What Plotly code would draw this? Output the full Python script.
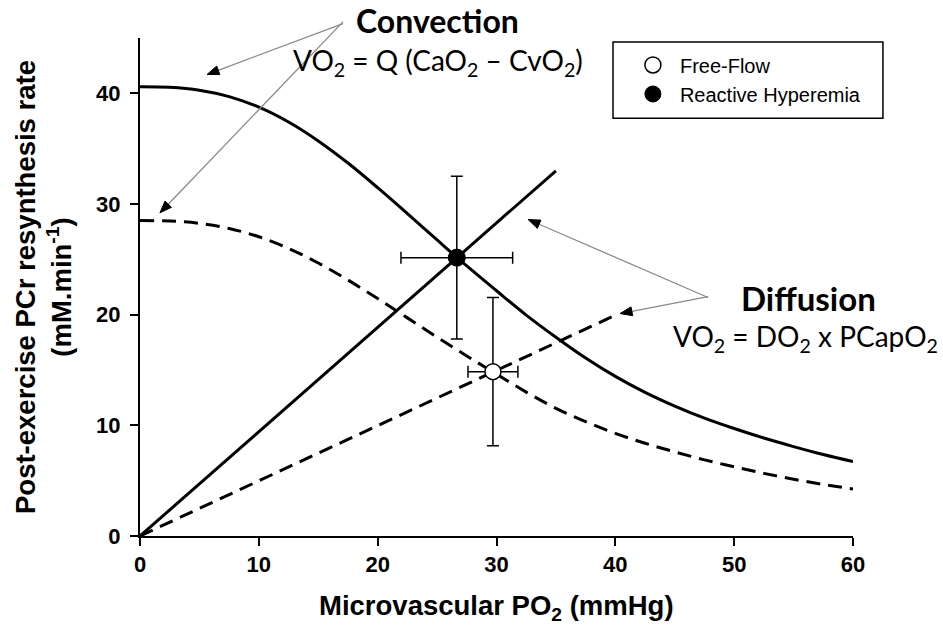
import plotly.graph_objects as go
import math

# ---------------- data ----------------
# Convection curve, reactive hyperemia (solid)
conv_rh_x = [0, 2.5, 5, 7.5, 10, 12.5, 15, 17.5, 20, 22.5, 25, 27.5, 30, 32.5, 35, 37.5, 40, 42.5, 45, 47.5, 50, 52.5, 55, 57.5, 60]
conv_rh_y = [40.6, 40.55, 40.28, 39.7, 38.75, 37.41, 35.7, 33.7, 31.47, 29.13, 26.75, 24.4, 22.16, 19.96, 17.96, 16.08, 14.42, 12.98, 11.74, 10.65, 9.71, 8.85, 8.08, 7.36, 6.72]

# Convection curve, free flow (dashed)
conv_ff_x = [0, 2.5, 5, 7.5, 10, 12.5, 15, 17.5, 20, 22.5, 25, 27.5, 30, 32.5, 35, 37.5, 40, 42.5, 45, 47.5, 50, 52.5, 55, 57.5, 60]
conv_ff_y = [28.5, 28.46, 28.25, 27.79, 27.04, 25.99, 24.67, 23.13, 21.46, 19.71, 17.96, 16.27, 14.63, 13.0, 11.54, 10.33, 9.28, 8.38, 7.6, 6.88, 6.26, 5.66, 5.13, 4.66, 4.25]

# Diffusion lines
diff_rh_x = [0, 35.0]
diff_rh_y = [0, 33.0]
diff_ff_x = [0, 40.0]
diff_ff_y = [0, 19.95]

# Measured points (mean, +/- error)
ff_x, ff_y, ff_ex, ff_ey = [29.7], [14.85], [2.1], [6.7]
rh_x, rh_y, rh_ex, rh_ey = [26.66], [25.15], [4.7], [7.35]

x_ticks = [0, 10, 20, 30, 40, 50, 60]
y_ticks = [0, 10, 20, 30, 40]
X_RANGE = [0, 60]
Y_RANGE = [0, 45]

FONT = "Liberation Sans, Arial, sans-serif"
CAL = "Lato, Open Sans, sans-serif"
DASH = "14px,8px"

W, H = 943, 625
ML, MR, MT, MB = 140, 90, 38, 89
PW, PH = W - ML - MR, H - MT - MB

fig = go.Figure()

fig.add_trace(go.Scatter(x=conv_rh_x, y=conv_rh_y, mode="lines",
                         line=dict(color="black", width=3, shape="spline", smoothing=1),
                         showlegend=False, hoverinfo="skip"))
fig.add_trace(go.Scatter(x=conv_ff_x, y=conv_ff_y, mode="lines",
                         line=dict(color="black", width=3, dash=DASH, shape="spline", smoothing=1),
                         showlegend=False, hoverinfo="skip"))
fig.add_trace(go.Scatter(x=diff_rh_x, y=diff_rh_y, mode="lines", line=dict(color="black", width=3),
                         showlegend=False, hoverinfo="skip"))
fig.add_trace(go.Scatter(x=diff_ff_x, y=diff_ff_y, mode="lines", line=dict(color="black", width=3, dash=DASH),
                         showlegend=False, hoverinfo="skip"))

fig.add_trace(go.Scatter(
    x=ff_x, y=ff_y, mode="markers", name="Free-Flow", legendgroup="a",
    marker=dict(symbol="circle", size=16, color="white", line=dict(color="black", width=1.5)),
    error_x=dict(type="data", array=ff_ex, color="black", thickness=1.5, width=6),
    error_y=dict(type="data", array=ff_ey, color="black", thickness=1.5, width=6),
))
fig.add_trace(go.Scatter(
    x=rh_x, y=rh_y, mode="markers", name="Reactive Hyperemia", legendgroup="b",
    marker=dict(symbol="circle", size=17, color="black", line=dict(color="black", width=1)),
    error_x=dict(type="data", array=rh_ex, color="black", thickness=1.5, width=6),
    error_y=dict(type="data", array=rh_ey, color="black", thickness=1.5, width=6),
))

# ---------------- arrows (grey shaft, black head) drawn as shapes ----------------
def to_px(x, y):
    px = ML + (x - X_RANGE[0]) / (X_RANGE[1] - X_RANGE[0]) * PW
    py = MT + PH - (y - Y_RANGE[0]) / (Y_RANGE[1] - Y_RANGE[0]) * PH
    return px, py

def paper(px, py):
    return (px - ML) / PW, (MT + PH - py) / PH

def arrow(x, y, ax, ay, head_len=12.0, head_half=4.5):
    tx, ty = to_px(x, y)               # tip in pixels
    L = math.hypot(ax, ay)
    ux, uy = ax / L, ay / L            # unit vector tip -> tail
    bx, by = tx + ux * head_len, ty + uy * head_len
    # shaft
    x0, y0 = paper(tx + ax, ty + ay)
    x1, y1 = paper(bx, by)
    fig.add_shape(type="line", xref="paper", yref="paper", x0=x0, y0=y0, x1=x1, y1=y1,
                  line=dict(color="#8a8a8a", width=1.3))
    # head
    nx, ny = -uy, ux
    p1 = paper(tx, ty)
    p2 = paper(bx + nx * head_half, by + ny * head_half)
    p3 = paper(bx - nx * head_half, by - ny * head_half)
    path = "M {:.5f},{:.5f} L {:.5f},{:.5f} L {:.5f},{:.5f} Z".format(p1[0], p1[1], p2[0], p2[1], p3[0], p3[1])
    fig.add_shape(type="path", xref="paper", yref="paper", path=path,
                  fillcolor="black", line=dict(color="black", width=1))

arrow(5.64, 41.7, 136, -51)
arrow(1.68, 29.2, 183, -191)
arrow(40.4, 20.1, 88, -17)
arrow(32.66, 28.6, 180, 78)

# ---------------- texts ----------------
fig.add_annotation(x=0.4166, y=1.036, xref="paper", yref="paper", text="<b>Convection</b>",
                   showarrow=False, font=dict(family=CAL, size=32, color="black"), xanchor="center", yanchor="middle")
fig.add_annotation(x=0.418, y=0.952, xref="paper", yref="paper",
                   text="VO<sub>2</sub> = Q (CaO<sub>2</sub> – CvO<sub>2</sub>)",
                   showarrow=False, font=dict(family=CAL, size=28, color="black"), xanchor="center", yanchor="middle")
fig.add_annotation(x=0.938, y=0.478, xref="paper", yref="paper", text="<b>Diffusion</b>",
                   showarrow=False, font=dict(family=CAL, size=33, color="black"), xanchor="center", yanchor="middle")
fig.add_annotation(x=0.934, y=0.398, xref="paper", yref="paper",
                   text="VO<sub>2</sub> = DO<sub>2</sub> x PCapO<sub>2</sub>",
                   showarrow=False, font=dict(family=CAL, size=28, color="black"), xanchor="center", yanchor="middle")

# axis titles
fig.add_annotation(x=0, y=0.5, xref="paper", yref="paper", xshift=-97,
                   text="Post-exercise PCr resynthesis rate<br>(mM.min<sup>-1</sup>)", textangle=-90,
                   showarrow=False, font=dict(family=FONT, size=27.5, color="black", weight="bold"),
                   xanchor="center", yanchor="middle")
fig.add_annotation(x=0.5, y=0, xref="paper", yref="paper", yshift=-71,
                   text="Microvascular PO<sub>2</sub> (mmHg)",
                   showarrow=False, font=dict(family=FONT, size=27.5, color="black", weight="bold"),
                   xanchor="center", yanchor="middle")

# legend box
fig.add_shape(type="rect", xref="paper", yref="paper", x0=0.6634, x1=1.042, y0=0.839, y1=0.992,
              line=dict(color="black", width=1.5), fillcolor="rgba(0,0,0,0)")

fig.update_layout(
    width=W, height=H,
    margin=dict(l=ML, r=MR, t=MT, b=MB),
    plot_bgcolor="white", paper_bgcolor="white",
    showlegend=True,
    legend=dict(x=0.6815, y=0.985, xanchor="left", yanchor="top", bgcolor="rgba(0,0,0,0)",
                borderwidth=0, font=dict(family=FONT, size=20, color="black"),
                traceorder="grouped", tracegroupgap=0, itemwidth=44),
    xaxis=dict(range=X_RANGE, tickvals=x_ticks, ticktext=[str(v) for v in x_ticks],
               showline=True, linecolor="black", linewidth=2, ticks="outside", ticklen=8,
               tickwidth=1.5, tickcolor="black", showgrid=False, zeroline=False,
               tickfont=dict(family=FONT, size=22, color="black", weight="bold")),
    yaxis=dict(range=Y_RANGE, tickvals=y_ticks, ticktext=[str(v) for v in y_ticks],
               showline=True, linecolor="black", linewidth=2, ticks="outside", ticklen=8,
               tickwidth=1.5, tickcolor="black", showgrid=False, zeroline=False,
               ticklabelstandoff=5,
               tickfont=dict(family=FONT, size=22, color="black", weight="bold")),
)

fig.write_html("out.html")
